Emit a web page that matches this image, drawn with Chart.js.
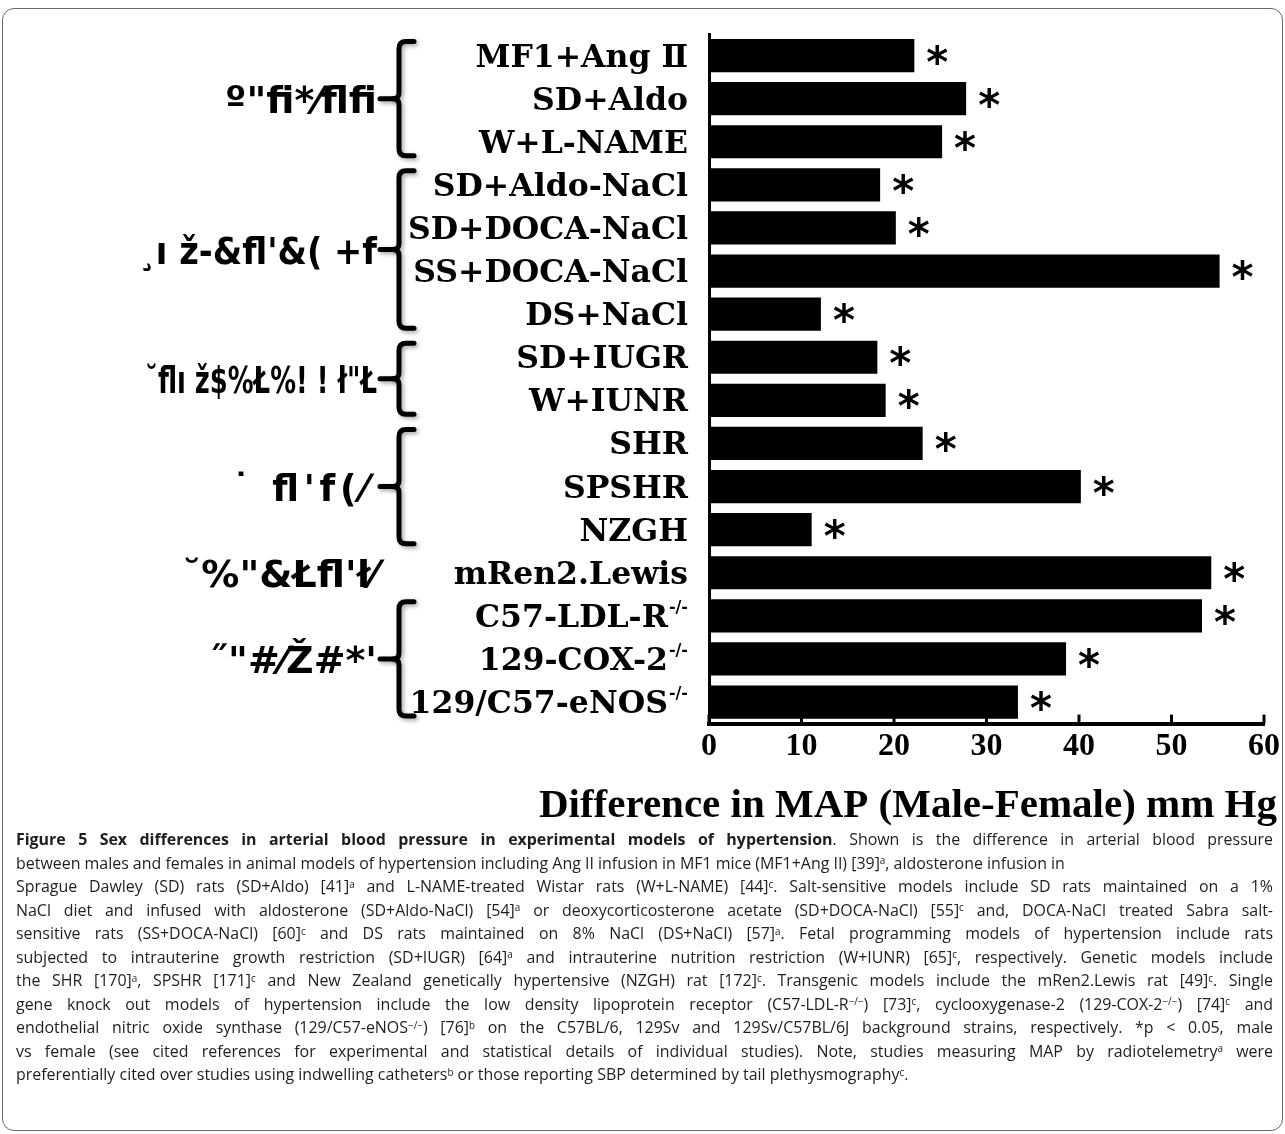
<!DOCTYPE html>
<html>
<head>
<meta charset="utf-8">
<script src="https://cdn.jsdelivr.net/npm/chart.js@4/dist/chart.umd.min.js"></script>
<style>
  html, body { margin: 0; padding: 0; background: #fff; }
  #frame { position: absolute; left: 2px; top: 8px; width: 1281px; height: 1123px;
           border: 1.5px solid #6a6a6a; border-radius: 12px; box-sizing: border-box; }
  #plot { position: absolute; left: 0; top: 0; }
  #caption, #measure { font-family: "Open Sans", sans-serif; font-weight: 400; font-size: 16.5px; }
  #caption { position: absolute; left: 16px; top: 828px; width: 1257px;
             line-height: 23.5px; color: #1e1e1e; }
  #caption .ln { display: block; text-align: justify; text-align-last: justify; white-space: normal; }
  #caption .ln.left { text-align: left; text-align-last: left; }
  #caption sup, #measure sup { font-size: 0.62em; position: relative; top: -0.45em; vertical-align: baseline; line-height: 0; }
  #caption b { font-weight: 700; }
  #measure { position: absolute; left: 0; top: 0; visibility: hidden; white-space: nowrap; }
</style>
</head>
<body>
<div id="frame"></div>
<canvas id="plot" width="1285" height="835"></canvas>
<div id="caption"></div>
<span id="measure"></span>
<script>
// Hypertension models (top to bottom) and male-minus-female MAP difference (mm Hg)
const categories = ['MF1+Ang Ⅱ', 'SD+Aldo', 'W+L-NAME', 'SD+Aldo-NaCl', 'SD+DOCA-NaCl',
  'SS+DOCA-NaCl', 'DS+NaCl', 'SD+IUGR', 'W+IUNR', 'SHR', 'SPSHR', 'NZGH',
  'mRen2.Lewis', 'C57-LDL-R', '129-COX-2', '129/C57-eNOS'];
const categorySuperscripts = ['', '', '', '', '', '', '', '', '', '', '', '', '', '-/-', '-/-', '-/-'];
const mapDifference = [22.2, 27.8, 25.2, 18.5, 20.2, 55.2, 12.1, 18.2, 19.1, 23.1, 40.2, 11.1, 54.3, 53.3, 38.6, 33.4];
const significanceMarks = ['*', '*', '*', '*', '*', '*', '*', '*', '*', '*', '*', '*', '*', '*', '*', '*'];

// Model groups bracketed on the left
const groupLabels = ['º"ﬁ*⁄ﬂﬁ', '¸ı ž-&ﬂ\'&( +f', '˘ﬂı ž$%Ł%! ! ł"Ł', '˙ ﬂ\'f(⁄', '˘%"&Łﬂ\'ł⁄', '˝"#⁄Ž#*\''];
const groupFirst = [0, 3, 7, 9, 12, 13];
const groupLast = [2, 6, 8, 11, 12, 15];
const groupBraced = [true, true, true, true, false, true];

const xTickValues = [0, 10, 20, 30, 40, 50, 60];
const axisTitle = 'Difference in MAP (Male-Female) mm Hg';

const captionLines = [
  '<b>Figure 5 Sex differences in arterial blood pressure in experimental models of hypertension</b>. Shown is the difference in arterial blood pressure',
  'between males and females in animal models of hypertension including Ang II infusion in MF1 mice (MF1+Ang II) [39]<sup>a</sup>, aldosterone infusion in',
  'Sprague Dawley (SD) rats (SD+Aldo) [41]<sup>a</sup> and L-NAME-treated Wistar rats (W+L-NAME) [44]<sup>c</sup>. Salt-sensitive models include SD rats maintained on a 1%',
  'NaCl diet and infused with aldosterone (SD+Aldo-NaCl) [54]<sup>a</sup> or deoxycorticosterone acetate (SD+DOCA-NaCl) [55]<sup>c</sup> and, DOCA-NaCl treated Sabra salt-',
  'sensitive rats (SS+DOCA-NaCl) [60]<sup>c</sup> and DS rats maintained on 8% NaCl (DS+NaCl) [57]<sup>a</sup>. Fetal programming models of hypertension include rats',
  'subjected to intrauterine growth restriction (SD+IUGR) [64]<sup>a</sup> and intrauterine nutrition restriction (W+IUNR) [65]<sup>c</sup>, respectively. Genetic models include',
  'the SHR [170]<sup>a</sup>, SPSHR [171]<sup>c</sup> and New Zealand genetically hypertensive (NZGH) rat [172]<sup>c</sup>. Transgenic models include the mRen2.Lewis rat [49]<sup>c</sup>. Single',
  'gene knock out models of hypertension include the low density lipoprotein receptor (C57-LDL-R<sup>−/−</sup>) [73]<sup>c</sup>, cyclooxygenase-2 (129-COX-2<sup>−/−</sup>) [74]<sup>c</sup> and',
  'endothelial nitric oxide synthase (129/C57-eNOS<sup>−/−</sup>) [76]<sup>b</sup> on the C57BL/6, 129Sv and 129Sv/C57BL/6J background strains, respectively. *p &lt; 0.05, male',
  'vs female (see cited references for experimental and statistical details of individual studies). Note, studies measuring MAP by radiotelemetry<sup>a</sup> were',
  'preferentially cited over studies using indwelling catheters<sup>b</sup> or those reporting SBP determined by tail plethysmography<sup>c</sup>.'
];
const captionUnjustified = [1, 10];

// ---- caption: size the text so the unjustified second line spans ~1050px ----
const cap = document.getElementById('caption');
const meas = document.getElementById('measure');
meas.innerHTML = captionLines[1];
const capSize = 16.5 * 1050 / meas.getBoundingClientRect().width;
cap.style.fontSize = capSize.toFixed(2) + 'px';
captionLines.forEach((html, i) => {
  const d = document.createElement('div');
  d.className = 'ln' + (captionUnjustified.includes(i) ? ' left' : '');
  d.innerHTML = html;
  cap.appendChild(d);
});

// ---- chart decorations: labels, asterisks, braces, inward ticks, axis title ----
const groupLabelMaxWidth = [170, 238, 232, 140, 196, 168];
const groupLabelTracking = [0, 0, 0, 5, 0, 0];
const decorations = {
  id: 'decorations',
  afterDatasetsDraw(chart) {
    const { ctx, chartArea } = chart;
    const x = chart.scales.x, y = chart.scales.y;
    ctx.save();

    // inward tick marks on the value axis
    ctx.strokeStyle = '#000';
    ctx.lineWidth = 3;
    xTickValues.forEach(v => {
      const px = x.getPixelForValue(v);
      ctx.beginPath();
      ctx.moveTo(px, chartArea.bottom);
      ctx.lineTo(px, chartArea.bottom - 9);
      ctx.stroke();
    });

    // value-axis title, right aligned under the axis
    ctx.fillStyle = '#000';
    ctx.textAlign = 'right';
    ctx.textBaseline = 'alphabetic';
    ctx.font = 'bold 41px "Liberation Serif"';
    ctx.fillText(axisTitle, 1277, chartArea.bottom + 93);

    // model names with optional superscripts
    categories.forEach((name, i) => {
      const py = y.getPixelForValue(i);
      let right = chartArea.left - 21;
      const sup = categorySuperscripts[i];
      if (sup) {
        ctx.font = 'bold 16px "DejaVu Serif"';
        ctx.fillText(sup, right, py - 4);
        right -= ctx.measureText(sup).width + 1;
      }
      ctx.font = 'bold 31.5px "DejaVu Serif"';
      ctx.fillText(name, right, py + 11);
    });

    // significance asterisks after each bar
    ctx.textAlign = 'left';
    ctx.font = 'bold 42px "DejaVu Sans"';
    mapDifference.forEach((v, i) => {
      if (!significanceMarks[i]) return;
      const px = x.getPixelForValue(v);
      const py = y.getPixelForValue(i);
      ctx.fillText(significanceMarks[i], px + 12, py + 21);
    });

    // group braces with connectors and group labels
    const bx = 399, labelRight = 377;
    groupLabels.forEach((label, g) => {
      const top = y.getPixelForValue(groupFirst[g]) - 14;
      const bottom = y.getPixelForValue(groupLast[g]) + 14;
      const mid = (top + bottom) / 2;
      if (groupBraced[g]) {
        ctx.save();
        ctx.shadowColor = 'rgba(0,0,0,0.35)';
        ctx.shadowBlur = 4;
        ctx.shadowOffsetX = 2;
        ctx.shadowOffsetY = 2;
        ctx.strokeStyle = '#000';
        ctx.lineWidth = 5;
        ctx.lineCap = 'round';
        ctx.lineJoin = 'round';
        ctx.beginPath();
        ctx.moveTo(bx + 15, top);
        ctx.lineTo(bx + 7, top);
        ctx.quadraticCurveTo(bx, top, bx, top + 7);
        ctx.lineTo(bx, mid - 6);
        ctx.quadraticCurveTo(bx, mid, bx - 6, mid);
        ctx.quadraticCurveTo(bx, mid, bx, mid + 6);
        ctx.lineTo(bx, bottom - 7);
        ctx.quadraticCurveTo(bx, bottom, bx + 7, bottom);
        ctx.lineTo(bx + 15, bottom);
        ctx.stroke();
        ctx.beginPath();
        ctx.moveTo(labelRight + 3, mid);
        ctx.lineTo(bx - 6, mid);
        ctx.stroke();
        ctx.restore();
      }
      ctx.fillStyle = '#000';
      ctx.textAlign = 'right';
      ctx.font = 'bold 38px "DejaVu Sans"';
      ctx.letterSpacing = groupLabelTracking[g] + 'px';
      ctx.fillText(label, labelRight - groupLabelTracking[g], mid + 14, groupLabelMaxWidth[g]);
      ctx.letterSpacing = '0px';
    });

    ctx.restore();
  }
};

new Chart(document.getElementById('plot'), {
  type: 'bar',
  data: {
    labels: categories,
    datasets: [{
      data: mapDifference,
      backgroundColor: '#000',
      borderWidth: 0,
      barPercentage: 0.77,
      categoryPercentage: 1
    }]
  },
  options: {
    indexAxis: 'y',
    responsive: false,
    animation: false,
    devicePixelRatio: 1,
    layout: { padding: { left: 709, right: 21, top: 34, bottom: 65 } },
    plugins: { legend: { display: false }, tooltip: { enabled: false } },
    scales: {
      x: {
        min: 0, max: 60,
        afterBuildTicks: s => { s.ticks = xTickValues.map(v => ({ value: v })); },
        ticks: { color: '#000', padding: 4, maxRotation: 0,
                 font: { family: '"Liberation Serif"', weight: 'bold', size: 32 } },
        grid: { display: false, drawTicks: false },
        border: { display: true, color: '#000', width: 4 },
        title: { display: false }
      },
      y: {
        type: 'category',
        ticks: { display: false },
        grid: { display: false, drawTicks: false },
        border: { display: true, color: '#000', width: 3 }
      }
    }
  },
  plugins: [decorations]
});
</script>
</body>
</html>
